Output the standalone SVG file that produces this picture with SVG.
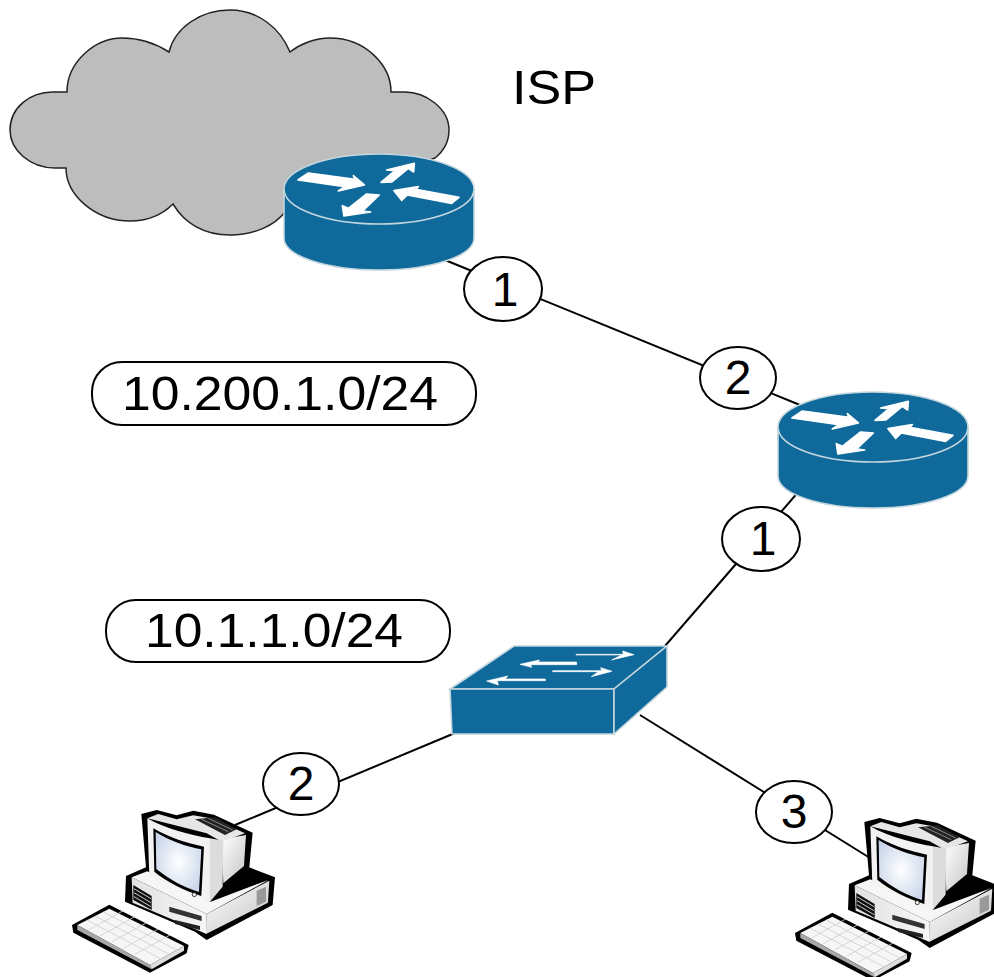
<svg xmlns="http://www.w3.org/2000/svg" width="994" height="977" viewBox="0 0 994 977">
<style>
text{font-family:"Liberation Sans",Arial,sans-serif;fill:#000}
.lbl{font-size:48px;text-anchor:middle}
.bub{fill:#fff;stroke:#000;stroke-width:2}
.link{stroke:#000;stroke-width:2;fill:none}
.blue{fill:#0f6a9b;stroke:#c4d6de;stroke-width:1.6}
.wh{fill:#fff;stroke:#fff;stroke-width:5;stroke-linejoin:round}
.sw{fill:#fff;stroke:#fff;stroke-width:2}
.k{fill:#000}
</style>
<defs>
<radialGradient id="scr" cx=".5" cy=".5" r=".6"><stop offset="0" stop-color="#fff"/><stop offset="1" stop-color="#c9d6ea"/></radialGradient>
<linearGradient id="case" x1="0" y1="0" x2="1" y2="1"><stop offset="0" stop-color="#fff"/><stop offset="1" stop-color="#c4c4c4"/></linearGradient>
<linearGradient id="front" x1="0" y1="0" x2="1" y2="0"><stop offset="0" stop-color="#e2e2e2"/><stop offset="1" stop-color="#f6f6f6"/></linearGradient>
<g id="router">
<path class="blue" d="M284 189V238C284 256 326 270 379 270S474 256 474 238V189Z"/>
<ellipse class="blue" cx="379" cy="189" rx="95" ry="35"/>
<g transform="translate(270 140) scale(.3333)">
<path class="wh" d="M84 120L115 99L255 118L250 107L283 135L205 153L225 140Z"/>
<path class="wh" d="M333 127L375 92L350 90L433 70L431 96L415 85L365 126Z"/>
<path class="wh" d="M372 152L445 140L437 148L567 172L545 190L412 165L395 181Z"/>
<path class="wh" d="M328 165L278 213L302 216L222 228L217 197L235 205L290 162Z"/>
</g>
</g>
<g id="pc" transform="translate(60 790) scale(.3333)">
<path class="k" d="M244 72L290 60L350 76L400 62L462 74L578 128L568 232L645 262L638 345L440 450L405 425L195 335L198 258L258 232Z"/>
<path class="k" d="M36 405L148 344L386 465L380 490L270 548L40 428Z"/>
<path fill="#f6f6f6" d="M215 262L262 244L452 335L625 270L440 372Z"/>
<path fill="url(#front)" d="M215 262L440 372V432L218 338Z"/>
<path fill="url(#case)" d="M440 372L628 272L624 338L438 432Z"/>
<path fill="#111" d="M220 285L275 318V360L220 330Z"/>
<g stroke="#ccc" stroke-width="3"><path d="M222 296L273 326M222 308L273 338M222 320L273 350"/></g>
<path fill="#333" d="M328 350L425 378V393L328 365Z"/>
<path fill="#222" d="M345 390L420 408V420L345 402Z"/>
<path fill="#999" d="M590 302L618 290V335L590 348Z"/>
<path fill="url(#case)" d="M485 148L558 135L552 228L490 280Z"/>
<path fill="#e6e6e6" d="M262 85L295 72L350 88L400 76L460 86L555 130L485 155L440 130Z"/>
<path fill="#222" d="M405 88L465 82L530 118L495 135Z"/>
<g stroke="#bbb" stroke-width="2"><path d="M425 88L505 125M445 85L518 120"/></g>
<path fill="#f2f2f2" d="M262 85C320 118 390 135 450 145L450 335L268 258Z"/>
<path fill="#dcdcdc" d="M450 145L490 152L488 290L450 335Z"/>
<path class="k" d="M280 115C330 145 385 160 432 170L424 318C370 300 320 275 283 245Z"/>
<path fill="url(#scr)" d="M287 126C335 155 380 170 424 178L417 306C370 292 325 266 289 237Z"/>
<circle cx="403" cy="314" r="6" fill="#fff" stroke="#333" stroke-width="3"/>
<path fill="#f6f6f6" d="M52 405L148 356L372 468L270 525Z"/>
<path fill="#a8a8a8" d="M52 405L270 525L275 538L52 420Z"/>
<path fill="#ddd" d="M270 525L372 468L372 482L275 538Z"/>
<g stroke="#cfcfcf" stroke-width="2.5" fill="none"><path d="M80 390L300 505M105 378L325 492M130 366L350 480M85 420L190 362M120 438L225 380M155 456L260 398M190 475L295 417M225 493L330 435"/></g>
</g>
</defs>
<g id="cloud"><path fill="#bdbdbd" stroke="#222" stroke-width="1.5" d="M67 92H55C30 91 10 108 10 130C10 150 30 168 55 168H66C66 195 95 221 130 221C148 221 163 214 173 204C185 224 205 235 230 235C255 235 275 225 285 212L435 158C445 150 449 140 449 130C449 108 425 92 405 92H391C391 65 365 38 330 38C315 38 300 44 290 52C280 28 258 10 230 10C200 10 175 28 169 52C155 43 140 38 122 38C95 38 67 62 67 92Z"/></g>
<g id="connectors">
<path class="link" d="M445 260L800 405"/>
<path class="link" d="M665 646L800 490"/>
<path class="link" d="M455 733L235 825"/>
<path class="link" d="M640 715L870 858"/>
</g>
<g id="router-isp"><use href="#router"/></g>
<g id="router-2"><use href="#router" x="494" y="238"/></g>
<g id="switch">
<path class="blue" d="M450 689L514 646H667L614 689Z"/>
<path class="blue" d="M450 689H614V734H452Z"/>
<path class="blue" d="M614 689L667 646V687L614 734Z"/>
<g transform="translate(430 630) scale(.3333)">
<path class="sw" d="M438 75H575L545 90L612 74L578 63L580 73H438Z"/>
<path class="sw" d="M440 96H325L328 90L270 103L305 112L302 104H440Z"/>
<path class="sw" d="M368 125H505L484 140L546 124L512 113L515 122H368Z"/>
<path class="sw" d="M346 147H225L234 138L170 153L205 165L202 152H346Z"/>
</g>
</g>
<g id="pc-1"><use href="#pc"/></g>
<g id="pc-2"><use href="#pc" x="723" y="8"/></g>
<g id="isp-label"><text x="512" y="104" font-size="48" textLength="84" lengthAdjust="spacingAndGlyphs">ISP</text></g>
<g id="if-r1-1"><ellipse class="bub" cx="503" cy="289" rx="39" ry="32"/><text class="lbl" x="505" y="306">1</text></g>
<g id="if-r2-2"><ellipse class="bub" cx="738" cy="378" rx="38" ry="31"/><text class="lbl" x="738" y="394">2</text></g>
<g id="if-r2-1"><ellipse class="bub" cx="761" cy="539" rx="39" ry="32"/><text class="lbl" x="763" y="555">1</text></g>
<g id="if-sw-2"><ellipse class="bub" cx="301" cy="784" rx="38" ry="31"/><text class="lbl" x="301" y="800">2</text></g>
<g id="if-sw-3"><ellipse class="bub" cx="794" cy="812" rx="38" ry="31"/><text class="lbl" x="794" y="828">3</text></g>
<g id="net-10-200"><rect class="bub" x="92" y="362" width="384" height="63" rx="30"/><text class="lbl" x="280" y="410" textLength="316" lengthAdjust="spacingAndGlyphs">10.200.1.0/24</text></g>
<g id="net-10-1"><rect class="bub" x="106" y="600" width="344" height="62" rx="30"/><text class="lbl" x="274" y="647" textLength="258" lengthAdjust="spacingAndGlyphs">10.1.1.0/24</text></g>
</svg>
